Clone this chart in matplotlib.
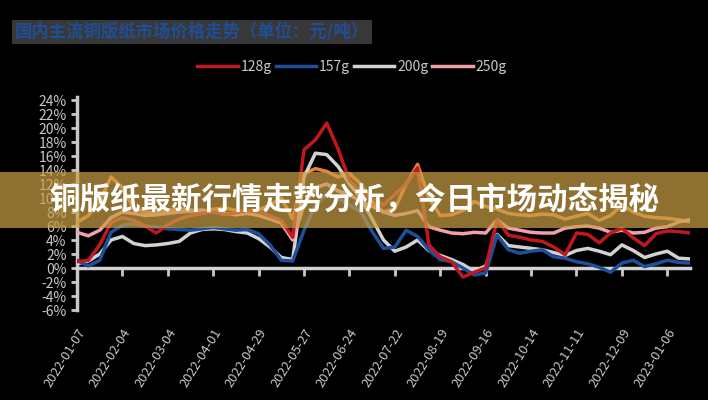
import matplotlib
matplotlib.use("Agg")
import matplotlib.pyplot as plt
import numpy as np
from matplotlib.patches import Rectangle

plt.rcParams['font.family'] = ['Noto Sans CJK SC', 'DejaVu Sans']

# ---- data ----
tick_labels = ["2022-01-07", "2022-02-04", "2022-03-04", "2022-04-01", "2022-04-29",
               "2022-05-27", "2022-06-24", "2022-07-22", "2022-08-19", "2022-09-16",
               "2022-10-14", "2022-11-11", "2022-12-09", "2023-01-06"]
series_names = ["128g", "157g", "200g", "250g"]

red = [0.9, 1.1, 3.3, 6.5, 7.2, 6.8, 6.0, 5.0, 6.2, 7.0,
       7.5, 7.8, 8.0, 7.6, 7.9, 8.2, 8.0, 7.4, 6.8, 4.4,
       16.9, 18.3, 20.7, 17.0, 12.5, 11.0, 10.0, 9.0, 10.5, 12.0,
       14.3, 3.3, 1.6, 0.9, -1.3, -0.6, 0.0, 6.9, 4.7, 4.4,
       4.0, 3.8, 3.0, 1.9, 5.0, 4.8, 3.6, 5.0, 5.7, 4.3,
       3.2, 4.9, 5.3, 5.2, 5.0]
blue = [1.1, 0.3, 1.1, 5.1, 6.1, 6.3, 6.0, 5.8, 5.6, 5.5,
        5.4, 5.6, 5.8, 5.6, 5.4, 5.5, 4.9, 3.3, 1.1, 1.0,
        5.4, 9.0, 10.5, 10.0, 9.0, 8.0, 5.2, 2.8, 3.0, 5.4,
        4.5, 2.6, 1.2, 0.9, 0.0, -1.0, -0.7, 4.7, 2.6, 2.1,
        2.4, 2.6, 1.6, 1.4, 0.9, 0.6, 0.1, -0.6, 0.7, 1.1,
        0.2, 0.6, 1.1, 0.8, 0.7]
grey = [0.6, 1.0, 2.0, 4.0, 4.5, 3.5, 3.2, 3.3, 3.5, 3.8,
        5.0, 5.5, 5.6, 5.5, 5.2, 5.0, 4.2, 3.0, 1.5, 1.2,
        13.0, 16.4, 16.2, 14.5, 12.0, 10.0, 7.0, 4.0, 2.4, 3.0,
        4.0, 2.5, 1.8, 1.2, 0.5, -0.5, 0.3, 4.8, 3.2, 3.0,
        2.8, 2.6, 2.2, 1.8, 2.5, 2.8, 2.4, 1.9, 3.3, 2.5,
        1.5, 2.0, 2.4, 1.4, 1.3]
pink = [5.1, 4.6, 5.4, 7.2, 8.0, 7.8, 7.5, 7.6, 7.8, 8.0,
        8.1, 8.3, 8.0, 7.8, 7.6, 7.8, 7.5, 7.0, 6.4, 4.0,
        9.0, 11.5, 12.0, 11.0, 10.5, 9.5, 8.8, 8.0, 7.5, 7.8,
        8.2, 5.9, 5.4, 5.0, 4.9, 5.1, 5.0, 6.9, 5.7, 5.4,
        5.1, 5.0, 5.0, 5.7, 5.9, 6.0, 5.7, 5.1, 5.4, 5.0,
        5.1, 5.7, 5.9, 6.6, 6.9]
orange = [6.5, 7.5, 9.5, 13.0, 11.5, 8.5, 8.0, 7.8, 8.2, 8.5,
          8.3, 8.0, 8.4, 8.6, 8.2, 8.0, 8.3, 9.0, 10.0, 7.0,
          13.5, 14.2, 13.8, 13.0, 13.5, 12.0, 9.5, 8.0, 8.5, 12.0,
          14.8, 10.0, 7.5, 7.6, 8.2, 9.5, 8.8, 8.4, 7.8, 7.6,
          7.5, 7.7, 7.6, 7.0, 7.4, 7.8, 6.8, 7.5, 9.0, 8.0,
          7.4, 7.2, 7.1, 6.9, 6.6]
y_ticks = list(range(-6, 25, 2))

# ---- figure ----
fig = plt.figure(figsize=(7.08, 4.0), dpi=100, facecolor='black')
ax = fig.add_axes([77/708, 1-310/400, (690-77)/708, (310-97)/400], facecolor='black')

# spines first (set_position resets ticks)
for s in ['top', 'right']:
    ax.spines[s].set_visible(False)
ax.spines['left'].set_color('#c8c8c8')
ax.spines['left'].set_linewidth(2.5)
ax.spines['bottom'].set_position(('data', 0))
ax.spines['bottom'].set_color('#d2d2d2')
ax.spines['bottom'].set_linewidth(2.5)

x = np.arange(len(red))
ax.plot(x, orange, color='#e8823a', lw=2.5, zorder=3)
ax.plot(x, grey, color='#d2d2d2', lw=2.5, zorder=3, label=series_names[2])
ax.plot(x, pink, color='#f0a0a8', lw=2.5, zorder=3, label=series_names[3])
ax.plot(x, blue, color='#1d4f9c', lw=2.5, zorder=4, label=series_names[1])
ax.plot(x, red, color='#c0181f', lw=2.5, zorder=5, label=series_names[0])

ax.set_xlim(0, len(red) - 1)
ax.set_ylim(-6, 24.43)
ax.set_yticks(y_ticks)
ax.set_yticklabels([f"{v}%" for v in y_ticks])
ax.set_xticks(np.arange(0, len(red), 4))
ax.set_xticklabels(tick_labels, rotation=58, ha='right', va='top', rotation_mode='anchor')

ax.tick_params(axis='x', colors='#c8c8c8', labelsize=9.3, length=6, width=2, pad=36)
ax.tick_params(axis='y', colors='#c8c8c8', labelsize=10, length=4, width=2)

# title
fig.text(15/708, 1-32/400, "国内主流铜版纸市场价格走势（单位：元/吨）", ha='left', va='center',
         fontsize=12.5, fontweight='bold', color='#1f4e96',
         bbox=dict(facecolor='#383838', edgecolor='none', pad=2))

# legend
h, l = ax.get_legend_handles_labels()
order = [series_names.index(n) for n in l]
pairs = sorted(zip(order, h, l))
leg = fig.legend([p[1] for p in pairs], [p[2] for p in pairs], loc='center',
                 bbox_to_anchor=(352/708, 1-67/400), ncol=4, frameon=False,
                 fontsize=10, handlelength=2.9, handletextpad=0.2, columnspacing=0.3)
for t in leg.get_texts():
    t.set_color('#c8c8c8')

# banner overlay
fig.patches.append(Rectangle((0, 1-228/400), 1, 56/400, transform=fig.transFigure,
                             facecolor='#c99f46', alpha=0.71, edgecolor='none', zorder=10))
fig.text(0.5, 1-200/400, "铜版纸最新行情走势分析，今日市场动态揭秘", ha='center', va='center',
         fontsize=22, fontweight='bold', color='white', zorder=11)

fig.savefig("out.png", dpi=100, facecolor='black')
